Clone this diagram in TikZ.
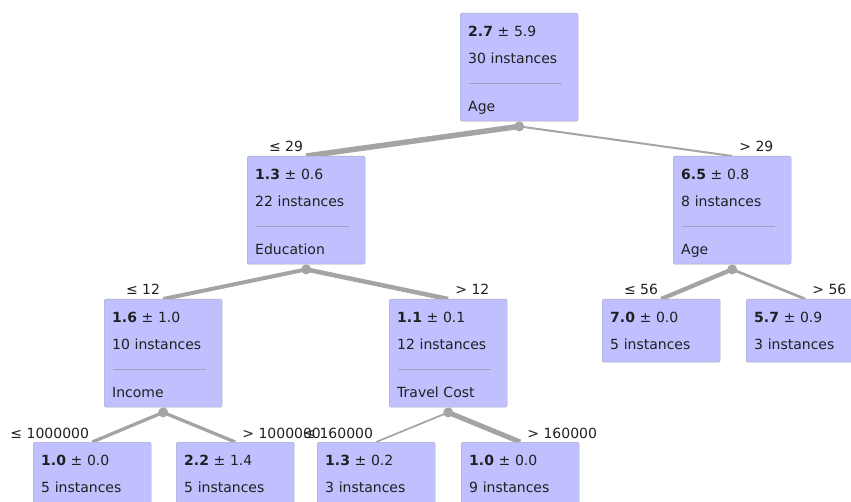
\documentclass[tikz,border=0pt]{standalone}
\usepackage{fontspec}
\setmainfont{DejaVu Sans}
\usetikzlibrary{backgrounds}
\definecolor{boxfill}{HTML}{C0C0FF}
\definecolor{boxline}{HTML}{A8A8B0}
\definecolor{lien}{HTML}{A4A4A4}
\definecolor{sep}{HTML}{A0A0C4}
\definecolor{ink}{HTML}{202020}

\begin{document}
\begin{tikzpicture}[x=1pt,y=-1pt,font=\fontsize{14}{27}\selectfont,text=ink]
\tikzstyle{lien}=[draw=lien,line cap=butt]
\tikzset{noeud/.style={draw=boxline,fill=boxfill,rounded corners=2pt,anchor=north west,
  text width=102pt,align=left,inner xsep=8pt,inner ysep=0pt,
  path picture={\draw[sep,sharp corners] ([xshift=9pt,yshift=-70pt]path picture bounding box.north west)
    -- ([xshift=-16pt,yshift=-70pt]path picture bounding box.north east);}},
feuille/.style={draw=boxline,fill=boxfill,rounded corners=2pt,anchor=north west,
  text width=102pt,align=left,inner xsep=8pt,inner ysep=0pt},
point/.style={circle,fill=lien,inner sep=0pt,minimum size=10pt},
gauche/.style={anchor=base east,inner sep=0pt,xshift=-3pt,yshift=4pt},
droite/.style={anchor=base west,inner sep=0pt,xshift=7pt,yshift=4pt}}
\useasboundingbox (0,0) rectangle (851,502);
\clip (0,0) rectangle (851,502);

\node[noeud] (A) at (460,13) {\rule{0pt}{23pt}\textbf{2.7} ± 5.9\\30 instances\\[21pt]Age\rule[-10pt]{0pt}{10pt}};
\node[noeud] (A1) at (247,156) {\rule{0pt}{23pt}\textbf{1.3} ± 0.6\\22 instances\\[21pt]Education\rule[-10pt]{0pt}{10pt}};
\node[noeud] (A2) at (673,156) {\rule{0pt}{23pt}\textbf{6.5} ± 0.8\\8 instances\\[21pt]Age\rule[-10pt]{0pt}{10pt}};
\node[noeud] (A11) at (104,299) {\rule{0pt}{23pt}\textbf{1.6} ± 1.0\\10 instances\\[21pt]Income\rule[-10pt]{0pt}{10pt}};
\node[noeud] (A12) at (389,299) {\rule{0pt}{23pt}\textbf{1.1} ± 0.1\\12 instances\\[21pt]Travel Cost\rule[-10pt]{0pt}{10pt}};
\node[feuille] (A21) at (602,299) {\rule{0pt}{23pt}\textbf{7.0} ± 0.0\\5 instances\rule[-13pt]{0pt}{13pt}};
\node[feuille] (A22) at (746,299) {\rule{0pt}{23pt}\textbf{5.7} ± 0.9\\3 instances\rule[-13pt]{0pt}{13pt}};
\node[feuille] (A111) at (33,442) {\rule{0pt}{23pt}\textbf{1.0} ± 0.0\\5 instances\rule[-13pt]{0pt}{13pt}};
\node[feuille] (A112) at (176,442) {\rule{0pt}{23pt}\textbf{2.2} ± 1.4\\5 instances\rule[-13pt]{0pt}{13pt}};
\node[feuille] (A121) at (317,442) {\rule{0pt}{23pt}\textbf{1.3} ± 0.2\\3 instances\rule[-13pt]{0pt}{13pt}};
\node[feuille] (A122) at (461,442) {\rule{0pt}{23pt}\textbf{1.0} ± 0.0\\9 instances\rule[-13pt]{0pt}{13pt}};

\node[point] (P) at ([yshift=-5pt]A.south) {};
\node[point] (P1) at ([yshift=-5pt]A1.south) {};
\node[point] (P2) at ([yshift=-5pt]A2.south) {};
\node[point] (P11) at ([yshift=-5pt]A11.south) {};
\node[point] (P12) at ([yshift=-5pt]A12.south) {};

\begin{pgfonlayer}{background}
\draw[lien,line width=5.5pt] (P.center) -- (A1.north);
\draw[lien,line width=2pt] (P.center) -- (A2.north);
\draw[lien,line width=4pt] (P1.center) -- (A11.north);
\draw[lien,line width=4.5pt] (P1.center) -- (A12.north);
\draw[lien,line width=4.3pt] (P2.center) -- (A21.north);
\draw[lien,line width=2.7pt] (P2.center) -- (A22.north);
\draw[lien,line width=3.3pt] (P11.center) -- (A111.north);
\draw[lien,line width=3.3pt] (P11.center) -- (A112.north);
\draw[lien,line width=1.7pt] (P12.center) -- (A121.north);
\draw[lien,line width=5pt] (P12.center) -- (A122.north);
\end{pgfonlayer}

\node[gauche] (L1) at (A1.north) {≤ 29};
\node[droite] (L2) at (A2.north) {> 29};
\node[gauche] (L11) at (A11.north) {≤ 12};
\node[droite] (L12) at (A12.north) {> 12};
\node[gauche] (L21) at (A21.north) {≤ 56};
\node[droite] (L22) at (A22.north) {> 56};
\node[gauche] (L111) at (A111.north) {≤ 1000000};
\node[droite] (L112) at (A112.north) {> 1000000};
\node[gauche] (L121) at (A121.north) {≤ 160000};
\node[droite] (L122) at (A122.north) {> 160000};

\end{tikzpicture}
\end{document}
